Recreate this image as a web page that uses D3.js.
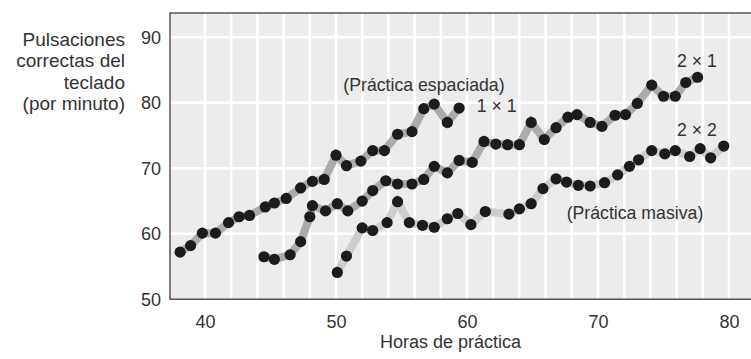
<!DOCTYPE html>
<html><head><meta charset="utf-8">
<script src="https://cdn.jsdelivr.net/npm/d3@7"></script>
<style>
html,body{margin:0;padding:0;background:#fff;}
svg text{font-family:"Liberation Sans","Arial",sans-serif;fill:#333;}
</style></head>
<body><svg id="chart" width="751" height="359"></svg>
<script>
// Hours of practice and correct keystrokes per minute
const hoursA = [38.1,38.9,39.8,40.8,41.8,42.6,43.4,44.6,45.3,46.2,47.3,48.2,49.1,50.0,50.8,51.9,52.8,53.7,54.7,55.8,56.7,57.5,58.5,59.4];
const valuesA = [57.2,58.2,60.1,60.1,61.7,62.6,62.8,64.1,64.7,65.4,67.0,68.0,68.3,72.0,70.4,71.1,72.7,72.7,75.2,75.6,79.1,79.8,77.0,79.2];
const hoursB = [44.5,45.3,46.5,47.3,48.0,48.2,49.2,50.1,50.9,52.0,52.8,53.8,54.7,55.8,56.7,57.5,58.5,59.4,60.4,61.3,62.2,63.1,64.0,64.9,65.9,66.8,67.7,68.4,69.4,70.3,71.3,72.1,73.0,74.1,75.0,75.9,76.7,77.6];
const valuesB = [56.5,56.1,56.8,58.8,62.6,64.3,63.5,64.6,63.5,65.0,66.6,68.1,67.6,67.6,68.3,70.3,69.3,71.2,70.9,74.1,73.7,73.6,73.6,77.0,74.4,76.2,77.8,78.2,77.0,76.4,78.1,78.2,79.9,82.7,81.0,81.0,83.1,83.9];
const hoursC = [50.1,50.8,52.0,52.8,53.9,54.7,55.6,56.6,57.5,58.5,59.3,60.3,61.4,63.2,64.0,64.9,65.8,66.8,67.6,68.5,69.4,70.5,71.5,72.4,73.1,74.1,75.1,75.9,77.0,77.8,78.6,79.6];
const valuesC = [54.1,56.6,60.9,60.5,61.7,64.9,61.7,61.3,61.0,62.3,63.1,61.4,63.4,63.0,63.8,64.6,66.9,68.4,67.9,67.4,67.3,67.8,69.0,70.3,71.3,72.7,72.2,72.7,71.8,73.0,71.6,73.4];
const xTicks = [40,50,60,70,80];
const yTicks = [50,60,70,80,90];
const yTitle = ["Pulsaciones","correctas del","teclado","(por minuto)"];
const xTitle = "Horas de práctica";
const annotations = [
  {text:"(Práctica espaciada)", h:50.56, v:81.8},
  {text:"1 × 1", h:60.74, v:78.64},
  {text:"2 × 1", h:76.03, v:85.5},
  {text:"2 × 2", h:76.03, v:74.93},
  {text:"(Práctica masiva)", h:67.61, v:62.26}
];

const svg = d3.select("#chart");
const L=170, R=751, T=13, B=299.3;
const x = d3.scaleLinear().domain([37.328,81.68]).range([L,R]);
const y = d3.scaleLinear().domain([50,90]).range([B,37.3]);

svg.append("rect").attr("x",L).attr("y",T).attr("width",R-L).attr("height",B-T).attr("fill","#ececec");

// grid
svg.append("g").selectAll("line").data(d3.range(40,82,2)).join("line")
  .attr("x1",d=>x(d)).attr("x2",d=>x(d)).attr("y1",T).attr("y2",B)
  .attr("stroke","#fff").attr("stroke-width",2.5);
svg.append("g").selectAll("line").data(yTicks.filter(d=>d>50)).join("line")
  .attr("x1",L).attr("x2",R).attr("y1",d=>y(d)).attr("y2",d=>y(d))
  .attr("stroke","#fff").attr("stroke-width",2.5);

// frame
svg.append("path").attr("d",`M${R},${T}H${L}V${B}H${R}`).attr("fill","none").attr("stroke","#555").attr("stroke-width",1.5);

// axes labels
const yAxis = d3.axisLeft(y).tickValues(yTicks).tickSize(0).tickPadding(0);
const gy = svg.append("g").attr("transform",`translate(161,0)`).call(yAxis);
gy.select(".domain").remove();
gy.selectAll("text").attr("font-size",18).attr("font-family",null).attr("fill","#333");

const xAxis = d3.axisBottom(x).tickValues(xTicks).tickSize(0).tickPadding(0);
const gx = svg.append("g").attr("transform",`translate(0,315)`).call(xAxis);
gx.select(".domain").remove();
gx.selectAll("text").attr("font-size",18).attr("font-family",null).attr("fill","#333");

svg.append("text").attr("x",380).attr("y",348).attr("text-anchor","start")
  .attr("font-size",18).text(xTitle);

svg.append("g").selectAll("text").data(yTitle).join("text")
  .attr("x",125).attr("y",(d,i)=>45.5+i*21.6).attr("text-anchor","end").attr("font-size",19).text(d=>d);

// series
const series = [
  {h:hoursA, v:valuesA, color:"#ababab"},
  {h:hoursB, v:valuesB, color:"#ababab"},
  {h:hoursC, v:valuesC, color:"#cdcdcd"}
];
const line = d3.line().x(d=>x(d[0])).y(d=>y(d[1]));
series.forEach(s=>{
  const pts = s.h.map((h,i)=>[h,s.v[i]]);
  svg.append("path").attr("d",line(pts)).attr("fill","none").attr("stroke",s.color)
    .attr("stroke-width",8).attr("stroke-linejoin","miter").attr("stroke-miterlimit",4);
});
series.forEach(s=>{
  const pts = s.h.map((h,i)=>[h,s.v[i]]);
  svg.append("g").selectAll("circle").data(pts).join("circle")
    .attr("cx",d=>x(d[0])).attr("cy",d=>y(d[1])).attr("r",5.6).attr("fill","#1c1c1c");
});

svg.append("g").selectAll("text").data(annotations).join("text")
  .attr("x",d=>x(d.h)).attr("y",d=>y(d.v)).attr("text-anchor","start")
  .attr("font-size",17.7).text(d=>d.text);
</script></body></html>
